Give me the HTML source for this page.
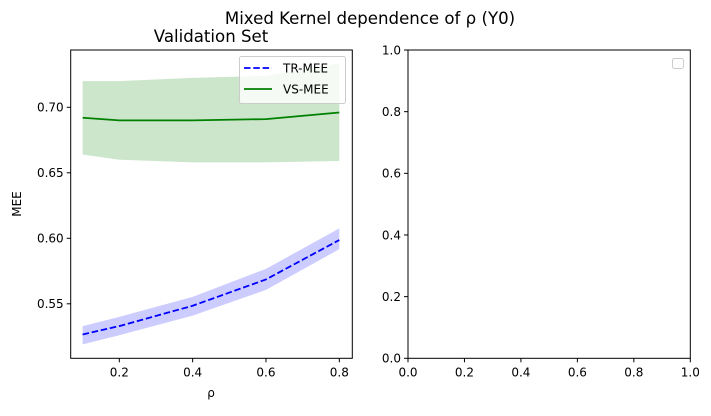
<!DOCTYPE html>
<html><head><meta charset="utf-8"><style>
body{margin:0;background:#fff;}
svg{font-family:"DejaVu Sans","Liberation Sans",sans-serif;}
</style></head><body>
<svg width="711" height="411" viewBox="0 0 711 411" xmlns="http://www.w3.org/2000/svg">
<rect width="711" height="411" fill="#fff"/>
<text x="370" y="24" font-size="16.6" text-anchor="middle">Mixed Kernel dependence of ρ (Y0)</text>
<text x="211" y="42" font-size="16.6" text-anchor="middle">Validation Set</text>
<g id="left"></g>
<g id="right"></g>
</svg>
<script>
const rho=[0.1,0.2,0.4,0.6,0.8];
const trMee=[0.5266,0.533,0.5485,0.5686,0.5987];
const trUpper=[0.533,0.540,0.5553,0.5767,0.6076];
const trLower=[0.519,0.526,0.541,0.5606,0.5917];
const vsMee=[0.692,0.690,0.690,0.691,0.696];
const vsUpper=[0.720,0.720,0.7225,0.724,0.7336];
const vsLower=[0.664,0.660,0.658,0.658,0.659];
const xTicks=[0.2,0.4,0.6,0.8];
const yTicks=[0.55,0.60,0.65,0.70];
const rTicks=[0.0,0.2,0.4,0.6,0.8,1.0];

const NS='http://www.w3.org/2000/svg';
function mk(parent,tag,attrs,text){const e=document.createElementNS(NS,tag);for(const k in attrs)e.setAttribute(k,attrs[k]);if(text!==undefined)e.textContent=text;parent.appendChild(e);return e;}
const L=document.getElementById('left');
const x0=70.7,x1=352.3,yT=50,yB=358.3;
const xs=v=>119.3+(v-0.2)*366.7;
const ys=v=>107.3+(0.70-v)*1310;
function band(up,lo,fill,name){
  let d='M'+rho.map((r,i)=>xs(r)+','+ys(up[i])).join('L');
  d+='L'+rho.slice().reverse().map((r,j)=>xs(r)+','+ys(lo[rho.length-1-j])).join('L')+'Z';
  const p=mk(L,'path',{d:d,fill:fill});
  
  
}
band(vsUpper,vsLower,'rgba(0,128,0,0.2)','vs-mee-band');
band(trUpper,trLower,'rgba(0,0,255,0.2)','tr-mee-band');
const vl=mk(L,'polyline',{points:rho.map((r,i)=>xs(r)+','+ys(vsMee[i])).join(' '),fill:'none',stroke:'#008000','stroke-width':1.8});


const tl=mk(L,'polyline',{points:rho.map((r,i)=>xs(r)+','+ys(trMee[i])).join(' '),fill:'none',stroke:'#0000ff','stroke-width':1.8,'stroke-dasharray':'6.5,2.8'});


mk(L,'rect',{x:x0,y:yT,width:x1-x0,height:yB-yT,fill:'none',stroke:'#000','stroke-width':1});
xTicks.forEach(t=>{const x=xs(t);mk(L,'line',{x1:x,x2:x,y1:yB,y2:yB+4,stroke:'#000'});
 const tx=mk(L,'text',{x:x,y:yB+18,'font-size':12,'text-anchor':'middle'},t.toFixed(1));
 
 });
yTicks.forEach(t=>{const y=ys(t);mk(L,'line',{x1:x0-4,x2:x0,y1:y,y2:y,stroke:'#000'});
 const tx=mk(L,'text',{x:x0-7,y:y+4.3,'font-size':12,'text-anchor':'end'},t.toFixed(2));
 
 });
const xl=mk(L,'text',{x:211,y:397,'font-size':12,'text-anchor':'middle'},'ρ');


const yl=mk(L,'text',{x:21,y:204,'font-size':12,'text-anchor':'middle',transform:'rotate(-90 21 204)'},'MEE');


// legend
const lg=mk(L,'g',{});


mk(lg,'rect',{x:239.5,y:56.5,width:106,height:47,rx:2,fill:'rgba(255,255,255,0.8)',stroke:'#ccc'});
mk(lg,'line',{x1:244,x2:272,y1:68,y2:68,stroke:'#0000ff','stroke-width':1.8,'stroke-dasharray':'6.5,2.8'});
mk(lg,'text',{x:283,y:72.5,'font-size':12},'TR-MEE');
mk(lg,'line',{x1:244,x2:272,y1:89,y2:89,stroke:'#008000','stroke-width':1.8});
mk(lg,'text',{x:283,y:93.5,'font-size':12},'VS-MEE');
// right
const R=document.getElementById('right');
const rx0=408,rx1=690.3;
const rxs=v=>rx0+v*(rx1-rx0), rys=v=>yB-v*(yB-yT);
mk(R,'rect',{x:rx0,y:yT,width:rx1-rx0,height:yB-yT,fill:'none',stroke:'#000','stroke-width':1});
rTicks.forEach(t=>{
 mk(R,'line',{x1:rxs(t),x2:rxs(t),y1:yB,y2:yB+4,stroke:'#000'});
 const a=mk(R,'text',{x:rxs(t),y:yB+18,'font-size':12,'text-anchor':'middle'},t.toFixed(1));
 
 
 mk(R,'line',{x1:rx0-4,x2:rx0,y1:rys(t),y2:rys(t),stroke:'#000'});
 const b=mk(R,'text',{x:rx0-7,y:rys(t)+4.3,'font-size':12,'text-anchor':'end'},t.toFixed(1));
 
 
});
const el=mk(R,'rect',{x:672.5,y:58.5,width:11,height:10,rx:2,fill:'#fff',stroke:'#ccc'});


</script>
</body></html>
